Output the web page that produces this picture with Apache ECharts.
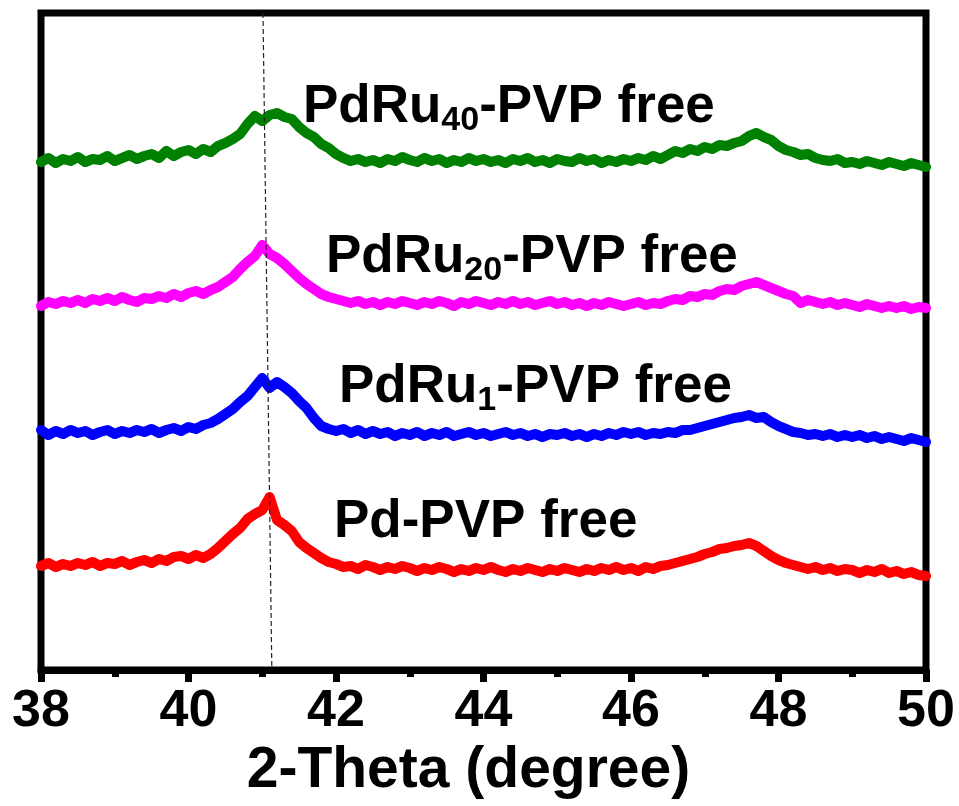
<!DOCTYPE html>
<html>
<head>
<meta charset="utf-8">
<script src="https://cdn.jsdelivr.net/npm/echarts@6/dist/echarts.min.js"></script>
<style>
html,body{margin:0;padding:0;background:#fff;}
#chart{width:959px;height:806px;}
</style>
</head>
<body>
<div id="chart"></div>
<script>
// 2-Theta sampling grid: 38.0 .. 50.0 step 0.1
const thetaStart = 38.0;
const thetaStep = 0.1;
const nPoints = 121;

// Intensities (a.u., offset per trace)
const pdRu40 = [
  508,512,507,511,509,513,508,511,510,514,
  509,512,515,511,514,516,512,519,514,518,
  520,516,521,518,524,527,531,536,546,554,
  549,555,557,553,551,543,537,533,526,522,
  516,512,509,511,508,510,507,511,509,513,
  510,508,512,509,511,507,510,508,512,509,
  511,508,510,507,511,509,512,508,510,507,
  511,509,508,512,509,511,507,510,508,511,
  509,512,510,514,511,515,519,517,521,519,
  523,521,525,524,527,529,534,537,533,530,
  524,520,518,515,516,512,510,509,511,507,
  508,506,509,507,505,508,506,504,507,505,
  503
];
const pdRu20 = [
  364,368,366,369,367,370,367,371,369,372,
  369,373,370,368,372,371,374,372,376,373,
  377,379,376,380,383,388,393,401,408,414,
  425,416,412,406,399,392,386,381,376,373,
  371,369,367,369,366,368,365,368,366,369,
  367,365,368,366,369,367,364,368,366,369,
  367,365,368,366,369,366,368,365,367,369,
  366,368,365,367,364,367,365,368,366,364,
  366,368,365,367,366,369,371,370,374,373,
  376,375,379,381,380,384,386,388,385,382,
  379,376,374,367,370,368,366,368,365,367,
  365,363,366,364,362,364,362,364,361,363,
  362
];
const pdRu1 = [
  240,235,239,236,240,237,239,235,238,240,
  236,239,237,240,238,241,237,240,242,239,
  243,241,245,247,251,256,261,268,274,283,
  292,282,288,283,277,269,262,252,244,241,
  239,241,237,240,236,239,236,238,234,237,
  235,238,234,237,235,238,234,236,238,235,
  237,234,236,238,235,237,234,236,233,236,
  235,237,234,236,233,236,234,237,235,238,
  236,238,235,237,236,238,237,240,240,242,
  244,246,248,250,252,253,255,252,253,248,
  244,241,238,237,235,236,234,236,233,235,
  233,235,232,234,231,233,231,229,232,230,
  228
];
const pd = [
  104,107,103,106,104,107,105,108,104,107,
  106,109,105,108,110,107,111,109,113,114,
  111,115,112,116,122,129,136,142,151,156,
  160,173,150,145,139,128,122,117,112,108,
  106,103,104,101,105,103,100,103,101,104,
  102,99,102,100,103,101,98,101,99,102,
  100,103,100,98,101,99,102,100,98,101,
  99,102,100,98,101,99,102,100,103,100,
  102,99,103,101,104,105,107,109,111,113,
  116,118,121,122,124,125,127,124,119,114,
  110,107,105,103,101,103,100,102,99,101,
  100,97,100,98,101,97,99,96,98,95,
  94
];
// dashed reference line (x at top, x at bottom)
const refLineX = [41.01, 41.13];
const yMin = 0, yMax = 657;
const xTicks = [38, 40, 42, 44, 46, 48, 50];

const theta = [];
for (let i = 0; i < nPoints; i++) theta.push(+(thetaStart + i * thetaStep).toFixed(1));
const pair = arr => arr.map((v, i) => [theta[i], v]);

const FONT = '"Liberation Sans", Arial, Helvetica, sans-serif';
const chart = echarts.init(document.getElementById('chart'), null, {renderer: 'canvas'});

function lineSeries(name, arr, color) {
  return {
    name, type: 'line', data: pair(arr), showSymbol: false, smooth: false,
    lineStyle: {color, width: 10, join: 'round', cap: 'round'},
    itemStyle: {color}, z: 3, silent: true
  };
}

function label(main, sub, rest, left, top) {
  return {
    type: 'text', left, top, z: 10,
    style: {
      text: '{m|' + main + '}' + (sub ? '{s|' + sub + '}' : '') + '{m|' + rest + '}',
      rich: {
        m: {fontSize: 53, fontWeight: 'bold', fontFamily: FONT, fill: '#000', lineHeight: 60, verticalAlign: 'middle'},
        s: {fontSize: 34, fontWeight: 'bold', fontFamily: FONT, fill: '#000', lineHeight: 16, verticalAlign: 'bottom'}
      }
    }
  };
}

chart.setOption({
  animation: false,
  backgroundColor: '#fff',
  grid: {left: 41, right: 33, top: 13, bottom: 136, show: true, borderColor: '#000', borderWidth: 7, backgroundColor: 'transparent'},
  xAxis: {
    type: 'value', min: xTicks[0], max: xTicks[xTicks.length - 1], interval: 2,
    name: '2-Theta (degree)', nameLocation: 'middle', nameGap: 71,
    nameTextStyle: {fontSize: 57, fontWeight: 'bold', fontFamily: FONT, color: '#000', padding: [0, 30, 0, 0]},
    axisLine: {show: true, lineStyle: {color: '#000', width: 7}},
    axisTick: {show: true, inside: false, length: 12, lineStyle: {color: '#000', width: 7}},
    minorTick: {show: true, splitNumber: 2, length: 7, lineStyle: {color: '#000', width: 7}},
    axisLabel: {fontSize: 52, fontWeight: 'bold', fontFamily: FONT, color: '#000', margin: 16},
    splitLine: {show: false}
  },
  yAxis: {
    type: 'value', min: yMin, max: yMax,
    axisLine: {show: false}, axisTick: {show: false}, axisLabel: {show: false}, splitLine: {show: false}
  },
  series: [
    lineSeries('Pd-PVP free', pd, '#ff0000'),
    lineSeries('PdRu1-PVP free', pdRu1, '#0000ff'),
    lineSeries('PdRu20-PVP free', pdRu20, '#ff00ff'),
    lineSeries('PdRu40-PVP free', pdRu40, '#008000'),
    {
      name: 'ref', type: 'line', data: [[refLineX[0], yMax], [refLineX[1], yMin]],
      showSymbol: false, silent: true, z: 5,
      lineStyle: {color: '#222', width: 1.2, type: [5, 3]}
    }
  ],
  graphic: [
    label('PdRu', '40', '-PVP free', 303, 81),
    label('PdRu', '20', '-PVP free', 326, 231),
    label('PdRu', '1', '-PVP free', 339, 361),
    label('Pd', '', '-PVP free', 334, 496)
  ]
});
</script>
</body>
</html>
